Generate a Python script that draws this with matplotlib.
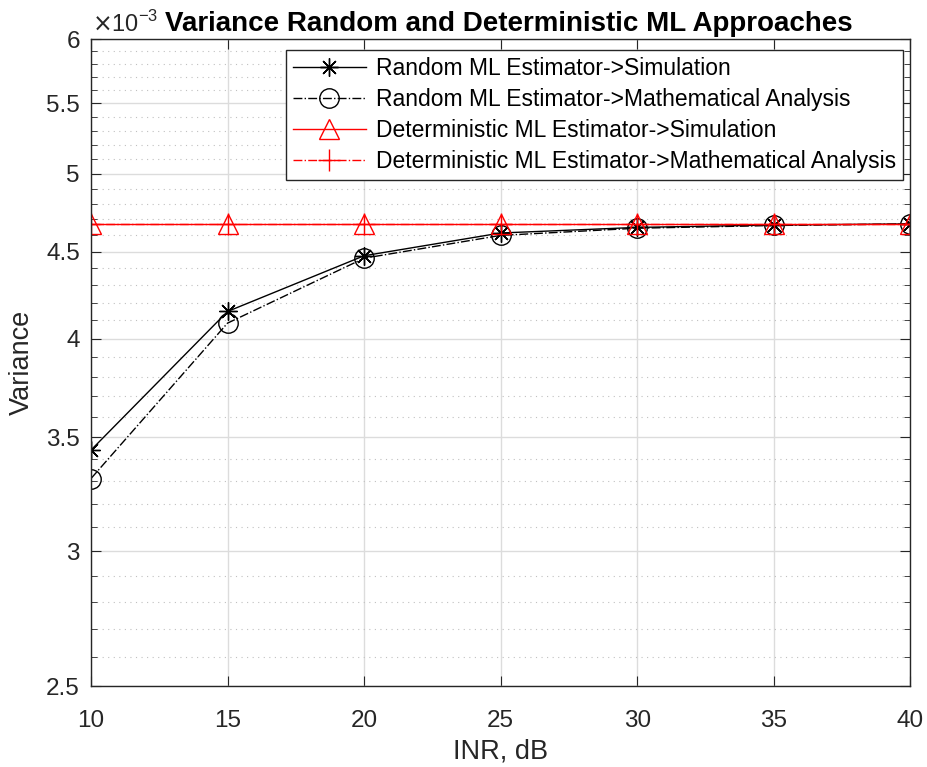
import matplotlib
matplotlib.use('Agg')
import matplotlib.pyplot as plt
from matplotlib.ticker import FixedLocator, NullFormatter

plt.rcParams['font.family'] = ['Liberation Sans', 'DejaVu Sans']

inr = [10, 15, 20, 25, 30, 35, 40]
randSim = [3.44e-3, 4.15e-3, 4.475e-3, 4.615e-3, 4.65e-3, 4.665e-3, 4.672e-3]
randAna = [3.31e-3, 4.085e-3, 4.46e-3, 4.60e-3, 4.645e-3, 4.662e-3, 4.672e-3]
detSim = [4.672e-3] * 7
detAna = [4.672e-3] * 7

yMajor = [2.5e-3, 3e-3, 3.5e-3, 4e-3, 4.5e-3, 5e-3, 5.5e-3, 6e-3]
yMajorLabels = ['2.5', '3', '3.5', '4', '4.5', '5', '5.5', '6']
yMinor = [k * 1e-4 for k in range(26, 60) if k % 5 != 0]

fig = plt.figure(figsize=(9.28, 7.67), dpi=100)
ax = fig.add_axes([0.098, 0.1056, 0.883, 0.8435])

ax.plot(inr, randSim, color='k', linestyle='-', linewidth=1, marker=(8, 2, 0),
        markersize=13, markeredgewidth=1, label='Random ML Estimator->Simulation')
ax.plot(inr, randAna, color='k', linestyle='-.', linewidth=1, marker='o',
        markersize=14, markerfacecolor='none', label='Random ML Estimator->Mathematical Analysis')
ax.plot(inr, detSim, color='r', linestyle='-', linewidth=1, marker='^',
        markersize=15, markerfacecolor='none', label='Deterministic ML Estimator->Simulation')
ax.plot(inr, detAna, color='r', linestyle='-.', linewidth=1, marker='+',
        markersize=16, label='Deterministic ML Estimator->Mathematical Analysis')

ax.set_yscale('log')
ax.set_ylim(2.5e-3, 6e-3)
ax.set_xlim(10, 40)
ax.set_xticks(inr)
ax.yaxis.set_major_locator(FixedLocator(yMajor))
ax.set_yticklabels(yMajorLabels)
ax.yaxis.set_minor_locator(FixedLocator(yMinor))
ax.yaxis.set_minor_formatter(NullFormatter())

ax.grid(True, which='major', color='#dcdcdc', linestyle='-', linewidth=1)
ax.grid(True, which='minor', axis='y', color='#c0c0c0', linestyle=(0, (1, 4)), linewidth=0.8)
ax.set_axisbelow(True)

ax.tick_params(which='both', direction='in', top=True, right=True, labelsize=17.5, colors='#262626')
ax.tick_params(axis='x', which='major', length=7, pad=17)
ax.tick_params(axis='y', which='major', length=7, pad=8)
ax.tick_params(which='minor', length=4)
for s in ax.spines.values():
    s.set_color('#262626')
    s.set_linewidth(1)

ax.set_xlabel('INR, dB', fontsize=19.5, color='#262626', labelpad=5)
ax.set_ylabel('Variance', fontsize=19.5, color='#262626', labelpad=8)
ax.set_title('Variance Random and Deterministic ML Approaches', fontsize=20,
             fontweight='bold', x=0.51, pad=6)
fig.text(0.099, 0.958, r'$\times$10$^{\mathregular{-3}}$', fontsize=17, color='#262626')

leg = ax.legend(loc='upper right', fontsize=16.5, fancybox=False, framealpha=1,
                edgecolor='#262626', borderpad=0.3, labelspacing=0.35, handlelength=3.2,
                handletextpad=0.45, borderaxespad=0, bbox_to_anchor=(0.9915, 0.983))
leg.get_frame().set_linewidth(1)

fig.savefig('out.png', dpi=100)
